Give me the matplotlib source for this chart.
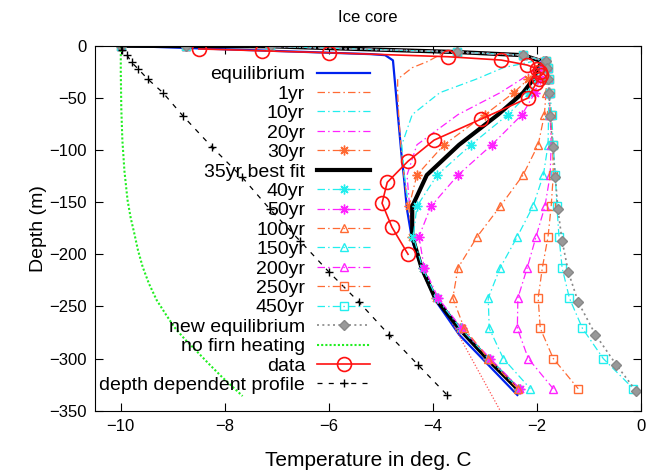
import matplotlib
matplotlib.use("Agg")
import matplotlib.pyplot as plt

plt.rcParams['font.family'] = ['Liberation Sans', 'DejaVu Sans']

# ---------------- data ----------------
depth_ts = [0, -0.2, -0.5, -6, -9, -15, -21, -32, -45, -66, -95, -124, -154,
            -183, -213, -242, -271, -300, -329]
top_common = [-10, -8.75, -7.13, -3.54, -2.27]

eq_depth = [0, -8, -9, -14, -108, -126, -157, -187, -217, -246, -277, -306, -335]
eq_temp = [-10, -5.2, -4.92, -4.77, -4.6, -4.56, -4.5, -4.4, -4.2, -3.93, -3.5, -2.94, -2.38]

yr1 = [-10, -8.75, -7.13, -3.75, -3.88, -4.1, -4.4, -4.68, -4.68, -4.66, -4.62, -4.56,
       -4.48, -4.38, -4.2, -3.95, -3.5, -2.95, -2.38]
yr10 = top_common + [-2.08, -2.65, -3.17, -3.87, -4.40, -4.6, -4.55, -4.47, -4.38,
                     -4.2, -3.95, -3.5, -2.95, -2.38]
yr20 = top_common + [-1.95, -1.98, -2.3, -2.71, -3.52, -4.31, -4.5, -4.45, -4.38,
                     -4.2, -3.95, -3.5, -2.95, -2.38]
yr30 = top_common + [-1.88, -1.98, -2.17, -2.45, -3.0, -3.79, -4.31, -4.46, -4.4,
                     -4.2, -3.94, -3.48, -2.94, -2.36]
yr35 = top_common + [-1.9, -1.97, -2.07, -2.27, -2.75, -3.5, -4.12, -4.40, -4.40,
                     -4.22, -3.96, -3.5, -2.96, -2.38]
yr40 = top_common + [-1.86, -1.9, -2.0, -2.15, -2.56, -3.27, -3.92, -4.31, -4.38,
                     -4.2, -3.93, -3.47, -2.92, -2.35]
yr50 = top_common + [-1.85, -1.88, -1.95, -2.04, -2.29, -2.87, -3.52, -4.04, -4.27,
                     -4.17, -3.9, -3.45, -2.9, -2.33]
yr100 = top_common + [-1.83, -1.82, -1.82, -1.83, -1.86, -1.98, -2.27, -2.71, -3.15,
                      -3.52, -3.62, -3.40, -2.94, -2.37]
yr150 = top_common + [-1.82, -1.8, -1.79, -1.78, -1.78, -1.79, -1.88, -2.08, -2.38,
                      -2.71, -2.94, -2.92, -2.65, -2.13]
yr200 = top_common + [-1.82, -1.8, -1.78, -1.77, -1.75, -1.73, -1.75, -1.85, -2.02,
                      -2.19, -2.37, -2.38, -2.17, -1.69]
yr250 = top_common + [-1.82, -1.8, -1.78, -1.76, -1.74, -1.70, -1.69, -1.73, -1.79,
                      -1.9, -1.98, -1.94, -1.69, -1.21]
yr450 = top_common + [-1.82, -1.79, -1.77, -1.75, -1.72, -1.69, -1.65, -1.62, -1.58,
                      -1.52, -1.38, -1.13, -0.73, -0.15]

neweq_depth = [0, -0.2, -0.5, -6, -9, -15, -21, -32, -45, -67, -97, -126, -157, -187,
               -217, -246, -277, -306, -331]
neweq_temp = [-10, -8.75, -7.13, -3.54, -2.27, -1.83, -1.81, -1.79, -1.77, -1.75, -1.70,
              -1.65, -1.60, -1.52, -1.40, -1.21, -0.88, -0.48, -0.1]

nofirn_depth = [0, -25, -60, -90, -120, -148, -165, -180, -196, -212, -228, -244, -258,
                -270, -282, -292, -305, -318, -336]
nofirn_temp = [-10.0, -10.0, -9.99, -9.97, -9.93, -9.87, -9.81, -9.74, -9.67, -9.58,
               -9.46, -9.31, -9.13, -8.97, -8.76, -8.56, -8.31, -8.05, -7.66]

data_depth = [-3, -4.8, -6.7, -10.5, -13.7, -18.5, -22, -25, -28, -32, -36, -50, -70.4,
              -90.5, -110.7, -131, -151, -174, -200]
data_temp = [-8.5, -7.29, -6.0, -3.71, -2.69, -2.19, -2.0, -1.95, -1.93, -1.97, -2.02,
             -2.17, -3.08, -3.98, -4.48, -4.88, -4.98, -4.79, -4.48]

ddp_depth = [0, -4, -9, -16, -22, -32, -45, -67, -97, -126, -157, -187, -217, -246,
             -277, -306, -335]
ddp_temp = [-10, -9.97, -9.88, -9.79, -9.67, -9.48, -9.19, -8.81, -8.25, -7.67, -7.13,
            -6.56, -6.0, -5.42, -4.85, -4.29, -3.73]

extra_depth = [-200, -230, -266, -300, -350]
extra_temp = [-4.3, -4.08, -3.63, -3.26, -2.71]

# ---------------- style ----------------
ORANGE = '#ff6a33'
CYAN = '#22eeee'
MAGENTA = '#ff22ff'
dashdot = (0, (6, 2.5, 1.2, 2.5))

fig = plt.figure(figsize=(6.49, 4.72), dpi=100)
ax = fig.add_axes([0.146, 0.130, 0.842, 0.773])

ax.plot(eq_temp, eq_depth, color='#0022ee', lw=1.6, label='equilibrium')
ax.plot(extra_temp, extra_depth, color='#ff5050', lw=0.9, ls=(0, (1, 1.5)), label='_nolegend_')
ax.plot(yr1, depth_ts, color=ORANGE, lw=0.9, ls=dashdot, label='1yr')
ax.plot(yr10, depth_ts, color=CYAN, lw=0.9, ls=dashdot, label='10yr')
ax.plot(yr20, depth_ts, color=MAGENTA, lw=0.9, ls=dashdot, label='20yr')
ax.plot(yr30, depth_ts, color=ORANGE, lw=0.9, ls=dashdot, marker=(8, 2, 0), ms=7,
        mew=1.0, label='30yr')
ax.plot(yr35, depth_ts, color='black', lw=3.0, label='35yr best fit')
ax.plot(yr40, depth_ts, color=CYAN, lw=0.9, ls=dashdot, marker=(8, 2, 0), ms=7,
        mew=1.0, label='40yr')
ax.plot(yr50, depth_ts, color=MAGENTA, lw=0.9, ls=dashdot, marker=(8, 2, 0), ms=7,
        mew=1.0, label='50yr')
ax.plot(yr100, depth_ts, color=ORANGE, lw=0.9, ls=dashdot, marker='^', ms=6,
        mfc='none', mew=1.0, label='100yr')
ax.plot(yr150, depth_ts, color=CYAN, lw=0.9, ls=dashdot, marker='^', ms=6,
        mfc='none', mew=1.0, label='150yr')
ax.plot(yr200, depth_ts, color=MAGENTA, lw=0.9, ls=dashdot, marker='^', ms=6,
        mfc='none', mew=1.0, label='200yr')
ax.plot(yr250, depth_ts, color=ORANGE, lw=0.9, ls=dashdot, marker='s', ms=6,
        mfc='none', mew=1.0, label='250yr')
ax.plot(yr450, depth_ts, color=CYAN, lw=0.9, ls=dashdot, marker='s', ms=6,
        mfc='none', mew=1.0, label='450yr')
ax.plot(neweq_temp, neweq_depth, color='#888888', lw=1.2, ls=(0, (1.2, 2)),
        marker='D', ms=5, mfc='#999999', mec='#888888', label='new equilibrium')
ax.plot(nofirn_temp, nofirn_depth, color='#22ee22', lw=1.5, ls=(0, (1, 1)),
        label='no firn heating')
ax.plot(data_temp, data_depth, color='#ff1111', lw=1.2, marker='o', ms=10,
        mfc='none', mew=1.2, label='data')
ax.plot(ddp_temp, ddp_depth, color='black', lw=0.9, ls=(0, (4, 5)), marker='+',
        ms=6, mew=1.0, label='depth dependent profile')

ax.set_xlim(-10.5, 0)
ax.set_ylim(-350, 0)
ax.set_xticks([-10, -8, -6, -4, -2, 0])
ax.set_yticks([0, -50, -100, -150, -200, -250, -300, -350])
ax.tick_params(direction='in', top=True, right=True, length=6, labelsize=12, pad=6)
ax.set_xlabel('Temperature in deg. C', fontsize=15, labelpad=12)
ax.set_ylabel('Depth (m)', fontsize=14, labelpad=1)
ax.set_title('Ice core', fontsize=12, pad=17)

leg = ax.legend(loc='upper right', bbox_to_anchor=(0.504, 0.945), frameon=False,
                markerfirst=False, fontsize=14, handlelength=2.73, handletextpad=0.62,
                labelspacing=0.093, borderpad=0, borderaxespad=0, numpoints=1)

fig.savefig('out.png', dpi=100)
